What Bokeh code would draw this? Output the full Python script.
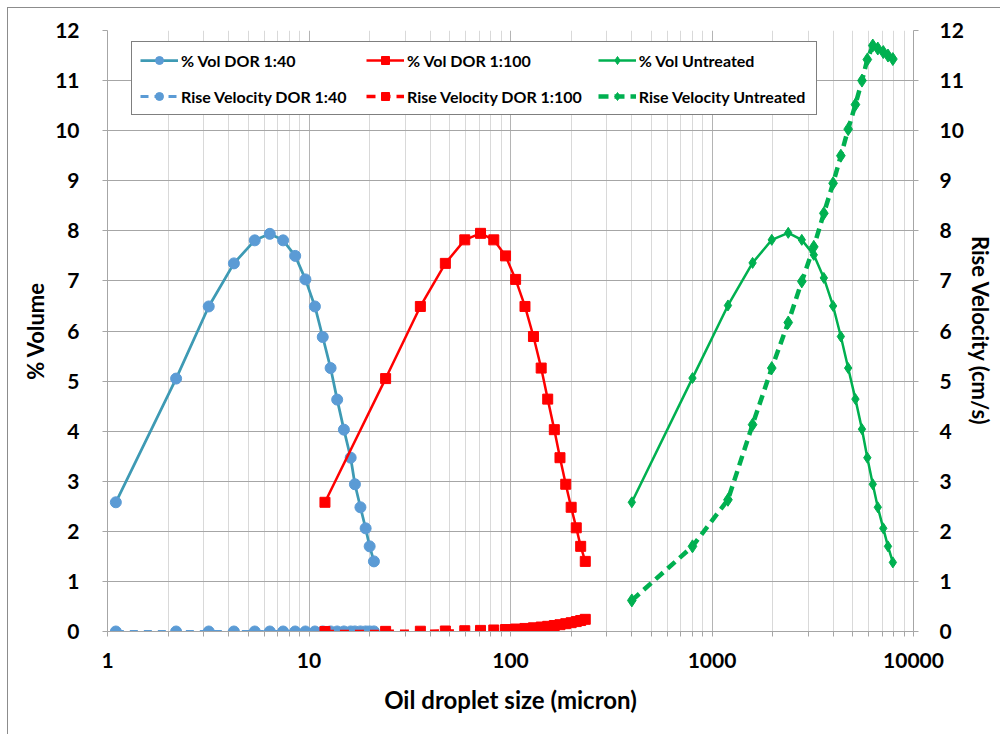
from bokeh.plotting import figure
from bokeh.models import (Range1d, LinearAxis, Legend, LegendItem, FixedTicker,
                          NumeralTickFormatter)
from bokeh.embed import file_html
from bokeh.resources import INLINE

# ---- data ----
d_40 = [1.1, 2.19, 3.18, 4.24, 5.38, 6.39, 7.44, 8.54, 9.6, 10.7, 11.7, 12.8,
        13.8, 14.9, 16.1, 16.9, 18.0, 19.1, 20.0, 21.0]
vol_40 = [2.58, 5.05, 6.49, 7.35, 7.81, 7.94, 7.81, 7.50, 7.03, 6.49, 5.88, 5.26,
          4.63, 4.03, 3.47, 2.94, 2.48, 2.06, 1.70, 1.40]
rv_40 = [0.00001, 0.00002, 0.00004, 0.00008, 0.00012, 0.00018, 0.00024, 0.00031,
         0.0004, 0.00049, 0.00059, 0.0007, 0.00082, 0.00095, 0.0011, 0.00123,
         0.00139, 0.00157, 0.00172, 0.0019]

d_100 = [12.0, 24.0, 35.7, 47.5, 59.3, 71.0, 82.6, 94.5, 106, 118, 130, 142,
         153, 165, 176, 188, 200, 212, 223, 235]
vol_100 = [2.58, 5.05, 6.49, 7.35, 7.82, 7.95, 7.82, 7.50, 7.03, 6.49, 5.89, 5.26,
           4.64, 4.03, 3.47, 2.94, 2.48, 2.07, 1.70, 1.40]
rv_100 = [0.0006, 0.0025, 0.0056, 0.0099, 0.0155, 0.022, 0.030, 0.039, 0.049,
          0.061, 0.074, 0.089, 0.103, 0.120, 0.136, 0.156, 0.176, 0.198, 0.219,
          0.243]

d_un = [400, 800, 1200, 1590, 1980, 2390, 2790, 3200, 3590, 3990, 4360, 4740,
        5150, 5550, 5900, 6280, 6650, 7080, 7470, 7900]
vol_un = [2.58, 5.06, 6.51, 7.36, 7.82, 7.96, 7.82, 7.52, 7.06, 6.50, 5.89, 5.26,
          4.64, 4.04, 3.47, 2.94, 2.48, 2.06, 1.70, 1.38]
rv_un = [0.62, 1.70, 2.63, 4.13, 5.26, 6.17, 6.99, 7.68, 8.35, 8.95, 9.50, 10.03,
         10.52, 11.00, 11.42, 11.70, 11.64, 11.57, 11.50, 11.43]

x_ticks = [1, 10, 100, 1000, 10000]
y_ticks = list(range(0, 13))

FONT = "Lato"
GRID = "#A6A6A6"
BORDER = "#8c8c8c"

p = figure(frame_width=806, frame_height=601, x_axis_type="log",
           x_range=Range1d(1, 10000), y_range=Range1d(0, 12),
           output_backend="svg", toolbar_location=None,
           min_border_left=107, min_border_right=87, min_border_top=30,
           min_border_bottom=103, outline_line_color=None,
           background_fill_color="white", border_fill_color="white",
           border_fill_alpha=0)
p.styles = {
    "background": (f"linear-gradient({BORDER},{BORDER}) 7px 7px / 1px calc(100% - 7px) no-repeat, "
                   f"linear-gradient({BORDER},{BORDER}) 7px 7px / calc(100% - 7px) 1px no-repeat, "
                   "#ffffff")
}
p.extra_y_ranges = {"rv": Range1d(0, 12)}
p.add_layout(LinearAxis(y_range_name="rv", axis_label="Rise Velocity (cm/s)"), "right")

p.xaxis.axis_label = "Oil droplet size (micron)"
p.yaxis[0].axis_label = "% Volume"

minor = [m * 10 ** e for e in range(0, 4) for m in range(2, 10)]
p.xaxis.ticker = FixedTicker(ticks=x_ticks, minor_ticks=minor)
p.xaxis.formatter = NumeralTickFormatter(format="0")
for ax in p.yaxis:
    ax.ticker = FixedTicker(ticks=y_ticks)

for ax in list(p.xaxis) + list(p.yaxis):
    ax.axis_line_color = GRID
    ax.major_tick_line_color = GRID
    ax.minor_tick_line_color = GRID
    ax.major_tick_in = 0
    ax.major_tick_out = 5
    ax.minor_tick_in = 0
    ax.minor_tick_out = 5
    ax.major_label_text_font = FONT
    ax.major_label_text_font_style = "bold"
    ax.major_label_text_font_size = "21px"
    ax.major_label_text_color = "black"
    ax.axis_label_text_font = FONT
    ax.axis_label_text_font_style = "bold"
    ax.axis_label_text_font_size = "22px"
    ax.axis_label_text_color = "black"

p.xaxis.major_label_standoff = 16
p.xaxis.axis_label_standoff = 14
p.xaxis.axis_label_text_font_size = "24px"
p.yaxis[0].major_label_standoff = 23
p.yaxis[0].axis_label_standoff = 3
p.yaxis[1].major_label_standoff = 21
p.yaxis[1].axis_label_standoff = 0

p.xgrid.grid_line_color = "#B4B4B4"
p.xgrid.minor_grid_line_color = "#D9D9D9"
p.ygrid.grid_line_color = GRID

BLUE_LINE = "#3E9AB4"
BLUE = "#5B9BD5"
RED = "#FF0000"
GREEN = "#00B050"

# rise velocity series (drawn first, underneath)
r_rv40_l = p.line(d_40, rv_40, y_range_name="rv", line_color=BLUE, line_width=3,
                  line_dash="8 6")
r_rv40_m = p.scatter(d_40, rv_40, y_range_name="rv", marker="circle", size=11,
                     fill_color=BLUE, line_color=BLUE)
r_rv100_l = p.line(d_100, rv_100, y_range_name="rv", line_color=RED, line_width=3.5,
                   line_dash="9 6")
r_rv100_m = p.scatter(d_100, rv_100, y_range_name="rv", marker="square", size=10,
                      fill_color=RED, line_color=RED)
r_rvun_l = p.line(d_un, rv_un, y_range_name="rv", line_color=GREEN, line_width=4.5,
                  line_dash="10 6")
r_rvun_m = p.scatter(d_un, rv_un, y_range_name="rv", marker="diamond", size=13,
                     fill_color=GREEN, line_color=GREEN)

# % volume series
r_v40_l = p.line(d_40, vol_40, line_color=BLUE_LINE, line_width=2.75)
r_v40_m = p.scatter(d_40, vol_40, marker="circle", size=11, fill_color=BLUE,
                    line_color=BLUE)
r_v100_l = p.line(d_100, vol_100, line_color=RED, line_width=2.5)
r_v100_m = p.scatter(d_100, vol_100, marker="square", size=10, fill_color=RED,
                     line_color=RED)
r_vun_l = p.line(d_un, vol_un, line_color=GREEN, line_width=2.5)
r_vun_m = p.scatter(d_un, vol_un, marker="diamond", size=11,
                    fill_color=GREEN, line_color=GREEN)

items = [
    LegendItem(label="% Vol DOR 1:40", renderers=[r_v40_l, r_v40_m]),
    LegendItem(label="% Vol DOR 1:100", renderers=[r_v100_l, r_v100_m]),
    LegendItem(label="% Vol Untreated", renderers=[r_vun_l, r_vun_m]),
    LegendItem(label="Rise Velocity DOR 1:40", renderers=[r_rv40_l, r_rv40_m]),
    LegendItem(label="Rise Velocity DOR 1:100", renderers=[r_rv100_l, r_rv100_m]),
    LegendItem(label="Rise Velocity Untreated", renderers=[r_rvun_l, r_rvun_m]),
]
legend = Legend(items=items, location=(24, 516), orientation="horizontal", ncols=3,
                margin=0, padding=8, spacing=16, glyph_width=38, glyph_height=20,
                label_height=20, label_width=169, label_standoff=3,
                label_text_font=FONT, label_text_font_style="bold",
                label_text_font_size="16px", label_text_color="black",
                border_line_color="black", border_line_width=1,
                background_fill_color="white", background_fill_alpha=1)
p.add_layout(legend, "center")

open("out.html", "w").write(file_html(p, INLINE))
